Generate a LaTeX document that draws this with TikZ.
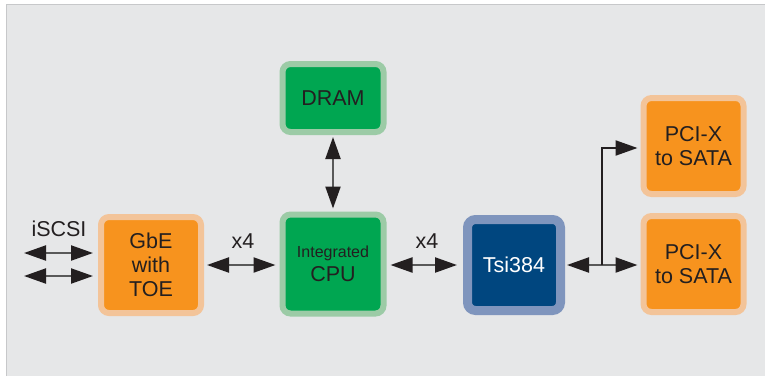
\documentclass[tikz,border=0pt]{standalone}
\usepackage{fontspec}
\setmainfont{Liberation Sans}
\usetikzlibrary{arrows.meta}
\definecolor{panelbg}{HTML}{E6E7E8}
\definecolor{panelrule}{HTML}{C7C8CA}
\definecolor{orangein}{HTML}{F7931E}
\definecolor{orangeout}{HTML}{F3C499}
\definecolor{greenin}{HTML}{00A651}
\definecolor{greenout}{HTML}{9CCBA6}
\definecolor{bluein}{HTML}{00467F}
\definecolor{blueout}{HTML}{7F95BD}
\definecolor{inkdark}{HTML}{231F20}
\tikzset{every picture/.style={line width=0.75pt}}
\tikzset{
  blockbox/.style={rounded corners=8pt, line width=6pt, text=inkdark, align=center, inner sep=0pt,
    font=\fontsize{21.5}{24}\selectfont},
  orangebox/.style={blockbox, fill=orangein, draw=orangeout, minimum width=100pt, minimum height=96pt},
  greenbox/.style={blockbox, fill=greenin, draw=greenout, minimum width=101pt},
  bluebox/.style={blockbox, fill=bluein, draw=blueout, line width=9pt, text=white, minimum width=93pt, minimum height=91pt},
  link/.style={draw=black!65, line width=2.2pt, {Triangle[length=22pt,width=15pt,color=inkdark]}-{Triangle[length=22pt,width=15pt,color=inkdark]}},
  linkout/.style={draw=inkdark, line width=2.2pt, -{Triangle[length=22pt,width=15pt,color=inkdark]}},
  tag/.style={text=inkdark, inner sep=0.75pt, font=\fontsize{21.5}{24}\selectfont}
}
\begin{document}
\begin{tikzpicture}[x=1pt,y=1pt,yscale=-1,xscale=1]
\useasboundingbox (0,0) rectangle (765,376) ;
\fill [white] (0,0) rectangle (765,376) ;
\fill [panelbg] (6.5,4.5) rectangle (765,376) ;
\draw [panelrule, line width=1.5pt] (6.5,376) -- (6.5,4.5) -- (765,4.5) ;
% blocks
\node (gbe) at (151,265) [orangebox] {GbE\\with\\TOE} ;
\node (cpu) at (333,264) [greenbox, minimum height=99pt] {{\fontsize{16}{18}\selectfont Integrated}\\CPU} ;
\node (dram) at (333,98) [greenbox, minimum height=68pt] {DRAM} ;
\node (tsi) at (514,265) [bluebox] {Tsi384} ;
\node (pcitop) at (693.5,146) [orangebox] {PCI-X\\to SATA} ;
\node (pcibot) at (693.5,264) [orangebox] {PCI-X\\to SATA} ;
% links
\coordinate (iscsiA) at (24,253) ;
\coordinate (iscsiB) at (24,276) ;
\coordinate (fork) at (602,265) ;
\draw [link, shorten >=5pt] (iscsiA) -- (iscsiA -| gbe.west) ;
\draw [link, shorten >=5pt] (iscsiB) -- (iscsiB -| gbe.west) ;
\draw [link, shorten <=3pt, shorten >=4pt] (gbe.east) -- (cpu.west |- gbe.east) ;
\draw [link, shorten <=2pt, shorten >=3pt] (dram.south) -- (cpu.north) ;
\draw [link, shorten <=4pt, shorten >=6pt] (cpu.east |- tsi.west) -- (tsi.west) ;
\draw [link, shorten <=2pt, shorten >=3pt] (tsi.east) -- (pcibot.west |- tsi.east) ;
\draw [linkout, shorten >=3pt] (fork) |- (pcitop.west |- 0,148) ;
% labels
\node (iscsi) at (59,229) [tag] {iSCSI} ;
\node (lanesA) at (243,241) [tag] {x4} ;
\node (lanesB) at (427,241) [tag] {x4} ;
\end{tikzpicture}
\end{document}
